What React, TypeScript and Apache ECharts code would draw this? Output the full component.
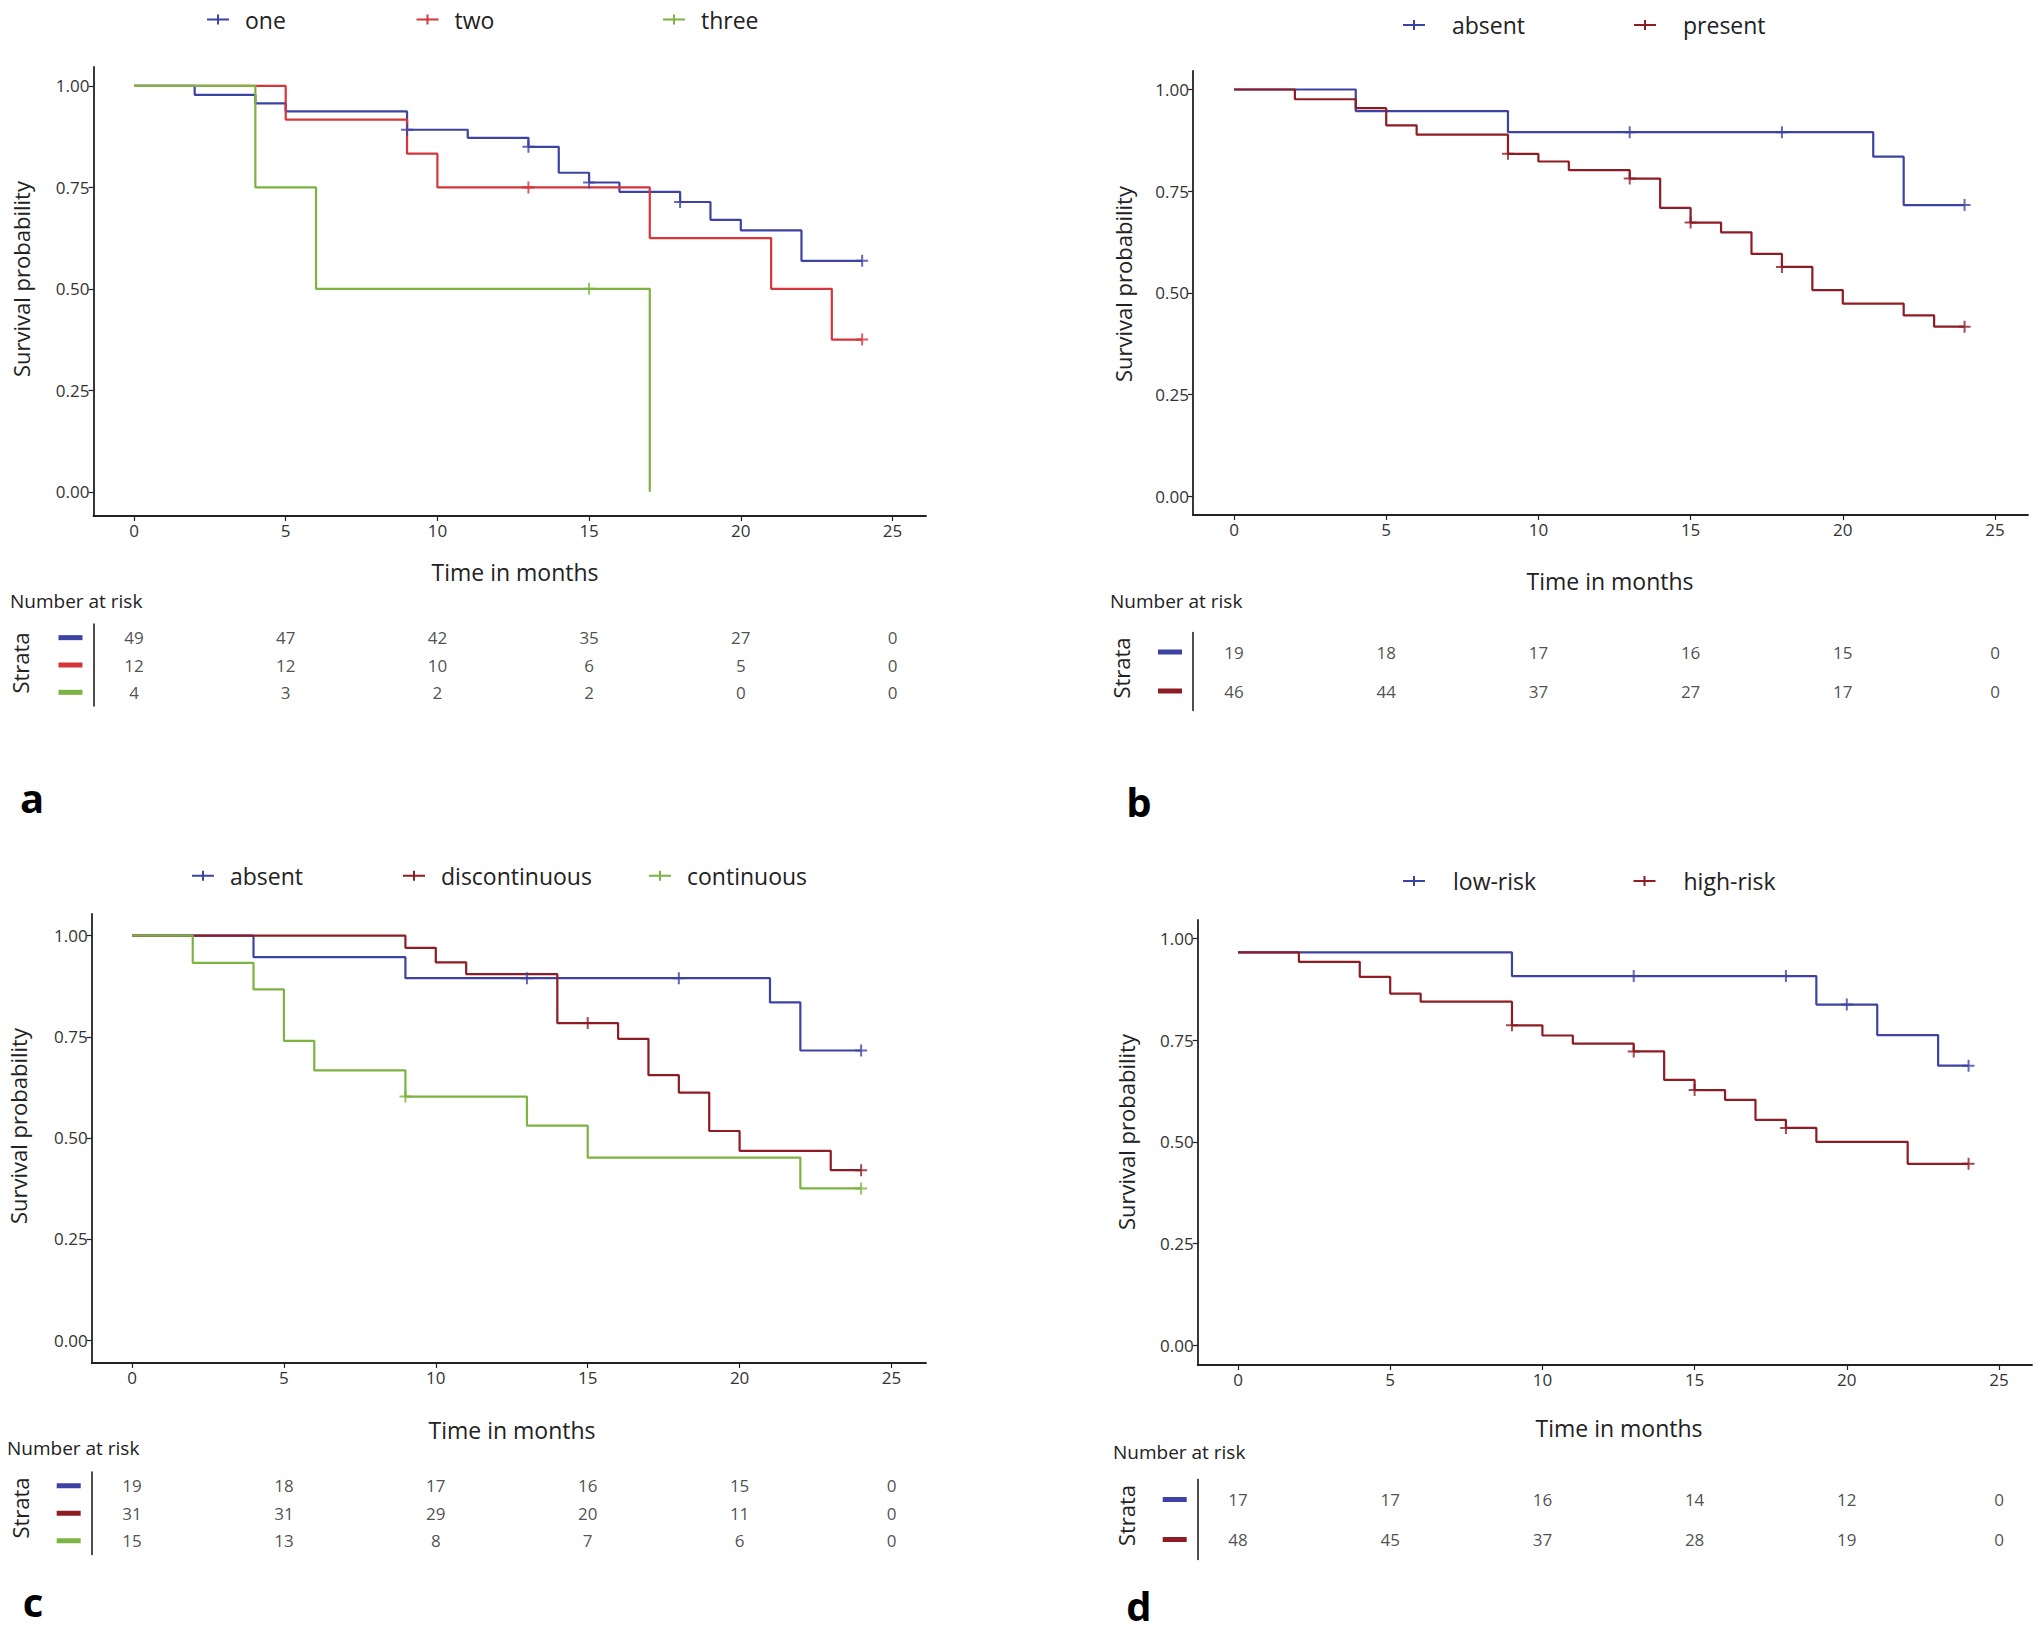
import React, { useEffect, useRef } from "react";
import * as echarts from "echarts";

const FONT = '"Open Sans", "Noto Sans", sans-serif';
const BLUE = "#3c43a3";
const RED = "#d5353b";
const DARKRED = "#8e1c24";
const GREEN = "#7cb342";
const INK = "#222222";

// axis ticks
const timeTicks = [0, 5, 10, 15, 20, 25];
const probTicks = [0, 0.25, 0.5, 0.75, 1];
const riskTimes = [0, 5, 10, 15, 20, 25];

// ---------- panel a ----------
const aOneT = [0, 2, 4, 5, 9, 11, 13, 14, 15, 16, 18, 19, 20, 22, 24];
const aOneS = [1, 0.978, 0.957, 0.937, 0.892, 0.872, 0.85, 0.786, 0.762, 0.739, 0.714, 0.67, 0.644, 0.569, 0.569];
const aOneCens = [9, 13, 15, 18, 24];
const aTwoT = [0, 5, 9, 10, 17, 21, 23, 24];
const aTwoS = [1, 0.917, 0.833, 0.75, 0.625, 0.5, 0.375, 0.375];
const aTwoCens = [13, 24];
const aThreeT = [0, 4, 6, 17];
const aThreeS = [1, 0.75, 0.5, 0];
const aThreeCens = [15];
const aRiskOne = [49, 47, 42, 35, 27, 0];
const aRiskTwo = [12, 12, 10, 6, 5, 0];
const aRiskThree = [4, 3, 2, 2, 0, 0];

// ---------- panel b ----------
const bAbsentT = [0, 4, 9, 21, 22, 24];
const bAbsentS = [1, 0.947, 0.895, 0.835, 0.716, 0.716];
const bAbsentCens = [13, 18, 24];
const bPresentT = [0, 2, 4, 5, 6, 9, 10, 11, 13, 14, 15, 16, 17, 18, 19, 20, 22, 23, 24];
const bPresentS = [1, 0.976, 0.954, 0.912, 0.889, 0.842, 0.823, 0.802, 0.781, 0.709, 0.673, 0.649, 0.596, 0.564, 0.507, 0.474, 0.445, 0.417, 0.417];
const bPresentCens = [9, 13, 15, 18, 24];
const bRiskAbsent = [19, 18, 17, 16, 15, 0];
const bRiskPresent = [46, 44, 37, 27, 17, 0];

// ---------- panel c ----------
const cAbsentT = [0, 4, 9, 21, 22, 24];
const cAbsentS = [1, 0.947, 0.895, 0.835, 0.716, 0.716];
const cAbsentCens = [13, 18, 24];
const cDiscT = [0, 9, 10, 11, 14, 16, 17, 18, 19, 20, 23, 24];
const cDiscS = [1, 0.97, 0.934, 0.905, 0.784, 0.745, 0.655, 0.612, 0.517, 0.468, 0.42, 0.42];
const cDiscCens = [15, 24];
const cContT = [0, 2, 4, 5, 6, 9, 13, 15, 22, 24];
const cContS = [1, 0.933, 0.867, 0.74, 0.667, 0.602, 0.53, 0.451, 0.375, 0.375];
const cContCens = [9, 24];
const cRiskAbsent = [19, 18, 17, 16, 15, 0];
const cRiskDisc = [31, 31, 29, 20, 11, 0];
const cRiskCont = [15, 13, 8, 7, 6, 0];

// ---------- panel d ----------
const dLowT = [0, 9, 19, 21, 23, 24];
const dLowS = [0.965, 0.907, 0.837, 0.762, 0.687, 0.687];
const dLowCens = [13, 18, 20, 24];
const dHighT = [0, 2, 4, 5, 6, 9, 10, 11, 13, 14, 15, 16, 17, 18, 19, 22, 24];
const dHighS = [0.965, 0.942, 0.905, 0.864, 0.844, 0.786, 0.761, 0.741, 0.722, 0.652, 0.627, 0.603, 0.554, 0.534, 0.5, 0.446, 0.446];
const dHighCens = [9, 13, 15, 18, 24];
const dRiskLow = [17, 17, 16, 14, 12, 0];
const dRiskHigh = [48, 45, 37, 28, 19, 0];

type Curve = { name: string; color: string; T: number[]; S: number[]; cens: number[]; risk: number[] };

const panels: any[] = [
  {
    letter: "a",
    curves: [
      { name: "one", color: BLUE, T: aOneT, S: aOneS, cens: aOneCens, risk: aRiskOne },
      { name: "two", color: RED, T: aTwoT, S: aTwoS, cens: aTwoCens, risk: aRiskTwo },
      { name: "three", color: GREEN, T: aThreeT, S: aThreeS, cens: aThreeCens, risk: aRiskThree },
    ],
    L: {
      x0: 134, x25: 892.5, y1: 85.9, y0: 491.8, left: 93.5, right: 926, top: 67, bottom: 516,
      riskTop: 624, riskBottom: 706,
      legendY: 19.5, legendX: [207, 416.5, 663], legendGap: 16,
      surv: [20.5, 279], time: [515, 572], nar: [10, 601], strata: [20, 663], letter: [32, 797],
    },
  },
  {
    letter: "b",
    curves: [
      { name: "absent", color: BLUE, T: bAbsentT, S: bAbsentS, cens: bAbsentCens, risk: bRiskAbsent },
      { name: "present", color: DARKRED, T: bPresentT, S: bPresentS, cens: bPresentCens, risk: bRiskPresent },
    ],
    L: {
      x0: 1234, x25: 1995, y1: 89.5, y0: 496.4, left: 1193, right: 2028, top: 71, bottom: 515,
      riskTop: 632.5, riskBottom: 710.5,
      legendY: 25, legendX: [1403, 1634], legendGap: 27,
      surv: [1122.5, 284], time: [1610, 581], nar: [1110, 601], strata: [1121, 668], letter: [1139, 801],
    },
  },
  {
    letter: "c",
    curves: [
      { name: "absent", color: BLUE, T: cAbsentT, S: cAbsentS, cens: cAbsentCens, risk: cRiskAbsent },
      { name: "discontinuous", color: DARKRED, T: cDiscT, S: cDiscS, cens: cDiscCens, risk: cRiskDisc },
      { name: "continuous", color: GREEN, T: cContT, S: cContS, cens: cContCens, risk: cRiskCont },
    ],
    L: {
      x0: 132, x25: 891.5, y1: 935.7, y0: 1340, left: 91.7, right: 926, top: 914, bottom: 1363,
      riskTop: 1472, riskBottom: 1554.5,
      legendY: 875.7, legendX: [192, 403, 649], legendGap: 16,
      surv: [18, 1126], time: [512, 1430], nar: [7, 1448], strata: [19.5, 1508], letter: [33, 1601],
    },
  },
  {
    letter: "d",
    curves: [
      { name: "low-risk", color: BLUE, T: dLowT, S: dLowS, cens: dLowCens, risk: dRiskLow },
      { name: "high-risk", color: DARKRED, T: dHighT, S: dHighS, cens: dHighCens, risk: dRiskHigh },
    ],
    L: {
      x0: 1238, x25: 1999, y1: 938.2, y0: 1345.4, left: 1197.7, right: 2032, top: 920, bottom: 1365,
      riskTop: 1479.5, riskBottom: 1559.5,
      legendY: 881, legendX: [1403, 1633.5], legendGap: 28,
      surv: [1125.5, 1132], time: [1619, 1428], nar: [1113, 1452], strata: [1125.5, 1515.5], letter: [1139, 1605],
    },
  },
];

const PLUS = "path://M0,5H12V7H0Z M5,0H7V12H5Z";
const LEGEND_ICON = "path://M0,4H22V6H0Z M10,0H12V10H10Z";

function stepValue(T: number[], S: number[], t: number) {
  let v = S[0];
  for (let i = 0; i < T.length; i++) if (T[i] <= t) v = S[i];
  return v;
}

function buildOption() {
  const grid: any[] = [];
  const xAxis: any[] = [];
  const yAxis: any[] = [];
  const series: any[] = [];
  const legend: any[] = [];
  const graphic: any[] = [];

  panels.forEach((p: any) => {
    const L = p.L;
    const ux = (L.x25 - L.x0) / 25;
    const xmin = (L.left - L.x0) / ux;
    const xmax = (L.right - L.x0) / ux;
    const uy = L.y0 - L.y1;
    const ymax = 1 + (L.y1 - L.top) / uy;
    const ymin = -(L.bottom - L.y0) / uy;
    const width = L.right - L.left;

    // plot grid
    const gi = grid.length;
    grid.push({ left: L.left, top: L.top, width, height: L.bottom - L.top, containLabel: false });
    xAxis.push({
      type: "value", gridIndex: gi, min: xmin, max: xmax,
      axisLine: { show: true, onZero: false, lineStyle: { color: INK, width: 1.8 } },
      axisTick: { show: true, length: 5, customValues: timeTicks, lineStyle: { color: INK, width: 1.2 } },
      axisLabel: { customValues: timeTicks, fontFamily: FONT, fontSize: 17, color: "#333", margin: 6 },
      splitLine: { show: false },
    });
    yAxis.push({
      type: "value", gridIndex: gi, min: ymin, max: ymax,
      axisLine: { show: true, onZero: false, lineStyle: { color: INK, width: 1.8 } },
      axisTick: { show: true, length: 5, customValues: probTicks, lineStyle: { color: INK, width: 1.2 } },
      axisLabel: {
        customValues: probTicks, fontFamily: FONT, fontSize: 17, color: "#333", margin: 4,
        formatter: (v: number) => v.toFixed(2),
      },
      splitLine: { show: false },
    });

    // risk grid
    const ri = grid.length;
    grid.push({ left: L.left, top: L.riskTop, width, height: L.riskBottom - L.riskTop, containLabel: false });
    xAxis.push({ type: "value", gridIndex: ri, min: xmin, max: xmax, show: false });
    const rich: any = {};
    p.curves.forEach((c: Curve, i: number) => {
      rich["k" + i] = { backgroundColor: c.color, width: 24, height: 5 };
    });
    yAxis.push({
      type: "category", gridIndex: ri, inverse: true,
      data: p.curves.map((c: Curve) => c.name),
      axisLine: { show: true, onZero: false, lineStyle: { color: INK, width: 1.6 } },
      axisTick: { show: false },
      axisLabel: {
        margin: 11,
        formatter: (_v: string, i: number) => `{k${i}|}`,
        rich,
      },
      splitLine: { show: false },
    });

    p.curves.forEach((c: Curve, ci: number) => {
      series.push({
        type: "line", name: c.name, xAxisIndex: gi, yAxisIndex: gi,
        data: c.T.map((t, i) => [t, c.S[i]]),
        step: "end", showSymbol: false, symbol: "none",
        lineStyle: { color: c.color, width: 2.2 },
        itemStyle: { color: c.color },
        z: 3 + ci,
      });
      series.push({
        type: "scatter", name: c.name, xAxisIndex: gi, yAxisIndex: gi,
        data: c.cens.map((t) => [t, stepValue(c.T, c.S, t)]),
        symbol: PLUS, symbolSize: 12,
        itemStyle: { color: c.color },
        z: 6,
      });
      series.push({
        type: "scatter", name: c.name + " at risk", xAxisIndex: ri, yAxisIndex: ri,
        data: riskTimes.map((t, i) => [t, ci, c.risk[i]]),
        symbolSize: 1,
        itemStyle: { color: "transparent" },
        label: {
          show: true, position: "inside", formatter: (q: any) => String(q.value[2]),
          fontFamily: FONT, fontSize: 17, color: INK,
        },
      });
    });

    // legends
    p.curves.forEach((c: Curve, ci: number) => {
      legend.push({
        data: [{ name: c.name, icon: LEGEND_ICON }],
        left: L.legendX[ci], top: L.legendY - 14, padding: 0,
        itemWidth: 22, itemHeight: 10, selectedMode: false,
        textStyle: {
          fontFamily: FONT, fontSize: 23, color: INK, lineHeight: 28,
          padding: [0, 0, 0, L.legendGap - 5],
        },
      });
    });

    // texts
    graphic.push({
      type: "text", x: L.surv[0], y: L.surv[1], rotation: Math.PI / 2,
      style: { text: "Survival probability", font: `22px ${FONT}`, fill: INK, align: "center", verticalAlign: "middle" },
    });
    graphic.push({
      type: "text", x: L.time[0], y: L.time[1],
      style: { text: "Time in months", font: `23px ${FONT}`, fill: INK, align: "center", verticalAlign: "middle" },
    });
    graphic.push({
      type: "text", x: L.nar[0], y: L.nar[1],
      style: { text: "Number at risk", font: `19px ${FONT}`, fill: INK, align: "left", verticalAlign: "middle" },
    });
    graphic.push({
      type: "text", x: L.strata[0], y: L.strata[1], rotation: Math.PI / 2,
      style: { text: "Strata", font: `22px ${FONT}`, fill: INK, align: "center", verticalAlign: "middle" },
    });
    graphic.push({
      type: "text", x: L.letter[0], y: L.letter[1],
      style: { text: p.letter, font: `bold 40px ${FONT}`, fill: "#000", align: "center", verticalAlign: "middle" },
    });
  });

  return {
    animation: false,
    backgroundColor: "#ffffff",
    grid, xAxis, yAxis, series, legend, graphic,
  };
}

export default function App() {
  const ref = useRef<HTMLDivElement>(null);
  useEffect(() => {
    document.body.style.margin = "0";
    const chart = echarts.init(ref.current!, undefined, { renderer: "svg" });
    chart.setOption(buildOption() as any);
    return () => chart.dispose();
  }, []);
  return <div ref={ref} style={{ width: 2040, height: 1635 }} />;
}
